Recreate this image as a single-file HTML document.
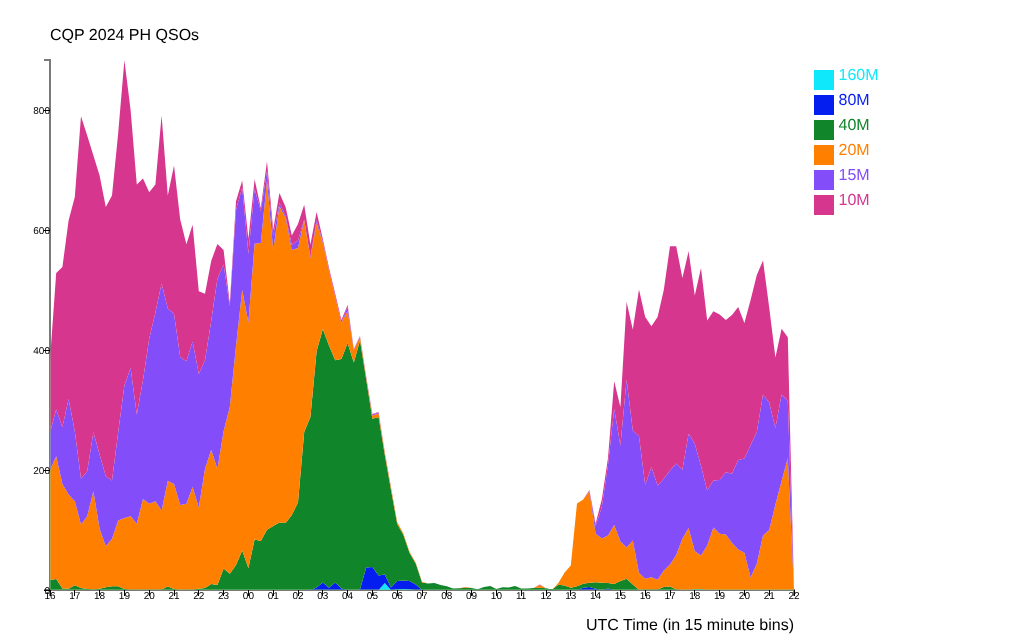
<!DOCTYPE html>
<html><head><meta charset="utf-8"><title>CQP 2024 PH QSOs</title>
<style>
html,body{margin:0;padding:0;background:#fff;}
body{width:1024px;height:640px;overflow:hidden;}
svg{display:block;font-family:"Liberation Sans",sans-serif;text-rendering:geometricPrecision;}
.ax text{font-size:10px;fill:#000;}
</style></head><body>
<svg width="1024" height="640" viewBox="0 0 1024 640" style="will-change:transform">
<rect width="1024" height="640" fill="#fff"/>
<text x="50" y="40" font-size="16" fill="#000">CQP 2024 PH QSOs</text>
<g class="ax" shape-rendering="crispEdges">
<path d="M44,60H50V590H44" fill="none" stroke="#000" stroke-opacity="0.52" stroke-width="2"/>
<path d="M50,596V590H794V596" fill="none" stroke="#000" stroke-opacity="0.52" stroke-width="2"/>
<line x1="44" x2="50" y1="590.0" y2="590.0" stroke="#000" stroke-width="1"/><text x="50" y="593.9" text-anchor="end">0</text>
<line x1="44" x2="50" y1="470.0" y2="470.0" stroke="#000" stroke-width="1"/><text x="50" y="473.9" text-anchor="end">200</text>
<line x1="44" x2="50" y1="350.0" y2="350.0" stroke="#000" stroke-width="1"/><text x="50" y="353.9" text-anchor="end">400</text>
<line x1="44" x2="50" y1="230.0" y2="230.0" stroke="#000" stroke-width="1"/><text x="50" y="233.9" text-anchor="end">600</text>
<line x1="44" x2="50" y1="110.0" y2="110.0" stroke="#000" stroke-width="1"/><text x="50" y="113.9" text-anchor="end">800</text>
<line x1="50.0" x2="50.0" y1="590" y2="596" stroke="#000" stroke-width="1"/><text x="50.0" y="598.6" text-anchor="middle">16</text>
<line x1="74.8" x2="74.8" y1="590" y2="596" stroke="#000" stroke-width="1"/><text x="74.8" y="598.6" text-anchor="middle">17</text>
<line x1="99.6" x2="99.6" y1="590" y2="596" stroke="#000" stroke-width="1"/><text x="99.6" y="598.6" text-anchor="middle">18</text>
<line x1="124.4" x2="124.4" y1="590" y2="596" stroke="#000" stroke-width="1"/><text x="124.4" y="598.6" text-anchor="middle">19</text>
<line x1="149.2" x2="149.2" y1="590" y2="596" stroke="#000" stroke-width="1"/><text x="149.2" y="598.6" text-anchor="middle">20</text>
<line x1="174.0" x2="174.0" y1="590" y2="596" stroke="#000" stroke-width="1"/><text x="174.0" y="598.6" text-anchor="middle">21</text>
<line x1="198.8" x2="198.8" y1="590" y2="596" stroke="#000" stroke-width="1"/><text x="198.8" y="598.6" text-anchor="middle">22</text>
<line x1="223.6" x2="223.6" y1="590" y2="596" stroke="#000" stroke-width="1"/><text x="223.6" y="598.6" text-anchor="middle">23</text>
<line x1="248.4" x2="248.4" y1="590" y2="596" stroke="#000" stroke-width="1"/><text x="248.4" y="598.6" text-anchor="middle">00</text>
<line x1="273.2" x2="273.2" y1="590" y2="596" stroke="#000" stroke-width="1"/><text x="273.2" y="598.6" text-anchor="middle">01</text>
<line x1="298.0" x2="298.0" y1="590" y2="596" stroke="#000" stroke-width="1"/><text x="298.0" y="598.6" text-anchor="middle">02</text>
<line x1="322.8" x2="322.8" y1="590" y2="596" stroke="#000" stroke-width="1"/><text x="322.8" y="598.6" text-anchor="middle">03</text>
<line x1="347.6" x2="347.6" y1="590" y2="596" stroke="#000" stroke-width="1"/><text x="347.6" y="598.6" text-anchor="middle">04</text>
<line x1="372.4" x2="372.4" y1="590" y2="596" stroke="#000" stroke-width="1"/><text x="372.4" y="598.6" text-anchor="middle">05</text>
<line x1="397.2" x2="397.2" y1="590" y2="596" stroke="#000" stroke-width="1"/><text x="397.2" y="598.6" text-anchor="middle">06</text>
<line x1="422.0" x2="422.0" y1="590" y2="596" stroke="#000" stroke-width="1"/><text x="422.0" y="598.6" text-anchor="middle">07</text>
<line x1="446.8" x2="446.8" y1="590" y2="596" stroke="#000" stroke-width="1"/><text x="446.8" y="598.6" text-anchor="middle">08</text>
<line x1="471.6" x2="471.6" y1="590" y2="596" stroke="#000" stroke-width="1"/><text x="471.6" y="598.6" text-anchor="middle">09</text>
<line x1="496.4" x2="496.4" y1="590" y2="596" stroke="#000" stroke-width="1"/><text x="496.4" y="598.6" text-anchor="middle">10</text>
<line x1="521.2" x2="521.2" y1="590" y2="596" stroke="#000" stroke-width="1"/><text x="521.2" y="598.6" text-anchor="middle">11</text>
<line x1="546.0" x2="546.0" y1="590" y2="596" stroke="#000" stroke-width="1"/><text x="546.0" y="598.6" text-anchor="middle">12</text>
<line x1="570.8" x2="570.8" y1="590" y2="596" stroke="#000" stroke-width="1"/><text x="570.8" y="598.6" text-anchor="middle">13</text>
<line x1="595.6" x2="595.6" y1="590" y2="596" stroke="#000" stroke-width="1"/><text x="595.6" y="598.6" text-anchor="middle">14</text>
<line x1="620.4" x2="620.4" y1="590" y2="596" stroke="#000" stroke-width="1"/><text x="620.4" y="598.6" text-anchor="middle">15</text>
<line x1="645.2" x2="645.2" y1="590" y2="596" stroke="#000" stroke-width="1"/><text x="645.2" y="598.6" text-anchor="middle">16</text>
<line x1="670.0" x2="670.0" y1="590" y2="596" stroke="#000" stroke-width="1"/><text x="670.0" y="598.6" text-anchor="middle">17</text>
<line x1="694.8" x2="694.8" y1="590" y2="596" stroke="#000" stroke-width="1"/><text x="694.8" y="598.6" text-anchor="middle">18</text>
<line x1="719.6" x2="719.6" y1="590" y2="596" stroke="#000" stroke-width="1"/><text x="719.6" y="598.6" text-anchor="middle">19</text>
<line x1="744.4" x2="744.4" y1="590" y2="596" stroke="#000" stroke-width="1"/><text x="744.4" y="598.6" text-anchor="middle">20</text>
<line x1="769.2" x2="769.2" y1="590" y2="596" stroke="#000" stroke-width="1"/><text x="769.2" y="598.6" text-anchor="middle">21</text>
<line x1="794.0" x2="794.0" y1="590" y2="596" stroke="#000" stroke-width="1"/><text x="794.0" y="598.6" text-anchor="middle">22</text>
</g>
<clipPath id="cp"><rect x="50" y="0" width="800" height="590"/></clipPath>
<g clip-path="url(#cp)">
<clipPath id="cp2"><polygon points="50.0,360.00 56.2,273.00 62.4,267.00 68.6,220.50 74.8,197.00 81.0,116.20 87.2,135.40 93.4,155.60 99.6,175.60 105.8,207.00 112.0,195.60 118.2,133.00 124.4,60.20 130.6,110.00 136.8,184.40 143.0,178.50 149.2,192.30 155.4,184.40 161.6,115.50 167.8,195.60 174.0,165.60 180.2,219.50 186.4,244.30 192.6,224.70 198.8,291.25 205.0,293.75 211.2,261.00 217.4,244.10 223.6,250.00 229.8,303.50 236.0,201.25 242.2,180.60 248.4,238.75 254.6,179.20 260.8,208.00 267.0,161.20 273.2,229.70 279.4,192.90 285.6,207.00 291.8,235.60 298.0,224.00 304.2,204.70 310.4,244.40 316.6,212.00 322.8,239.00 329.0,268.00 335.2,293.75 341.4,320.00 347.6,305.00 353.8,349.00 360.0,336.00 366.2,376.20 372.4,414.00 378.6,412.00 384.8,452.00 391.0,487.00 397.2,522.00 403.4,533.50 409.6,552.00 415.8,562.75 422.0,581.75 428.2,583.50 434.4,583.00 440.6,585.00 446.8,586.25 453.0,588.50 459.2,588.25 465.4,587.10 471.6,588.00 477.8,589.25 484.0,587.00 490.2,586.00 496.4,589.10 502.6,587.25 508.8,587.50 515.0,586.00 521.2,588.50 527.4,588.50 533.6,588.10 539.8,584.50 546.0,588.25 552.2,589.40 558.4,583.00 564.6,572.50 570.8,565.60 577.0,503.50 583.2,499.40 589.4,490.00 595.6,523.75 601.8,499.40 608.0,458.00 614.2,381.25 620.4,407.00 626.6,302.00 632.8,329.40 639.0,289.40 645.2,317.00 651.4,326.25 657.6,317.00 663.8,290.00 670.0,246.25 676.2,246.25 682.4,278.00 688.6,251.25 694.8,295.60 701.0,268.00 707.2,320.60 713.4,311.25 719.6,314.40 725.8,320.00 732.0,315.00 738.2,306.90 744.4,323.00 750.6,300.00 756.8,275.00 763.0,260.60 769.2,307.50 775.4,357.50 781.6,328.75 787.8,337.25 794.0,590.00 794.0,590.00 787.8,590.00 781.6,590.00 775.4,590.00 769.2,590.00 763.0,590.00 756.8,590.00 750.6,590.00 744.4,590.00 738.2,590.00 732.0,590.00 725.8,590.00 719.6,590.00 713.4,590.00 707.2,590.00 701.0,590.00 694.8,590.00 688.6,590.00 682.4,590.00 676.2,590.00 670.0,590.00 663.8,590.00 657.6,590.00 651.4,590.00 645.2,590.00 639.0,590.00 632.8,590.00 626.6,590.00 620.4,590.00 614.2,590.00 608.0,590.00 601.8,590.00 595.6,590.00 589.4,590.00 583.2,590.00 577.0,590.00 570.8,590.00 564.6,590.00 558.4,590.00 552.2,590.00 546.0,590.00 539.8,590.00 533.6,590.00 527.4,590.00 521.2,590.00 515.0,590.00 508.8,590.00 502.6,590.00 496.4,590.00 490.2,590.00 484.0,590.00 477.8,590.00 471.6,590.00 465.4,590.00 459.2,590.00 453.0,590.00 446.8,590.00 440.6,590.00 434.4,590.00 428.2,590.00 422.0,590.00 415.8,590.00 409.6,590.00 403.4,590.00 397.2,590.00 391.0,590.00 384.8,590.00 378.6,590.00 372.4,590.00 366.2,590.00 360.0,590.00 353.8,590.00 347.6,590.00 341.4,590.00 335.2,590.00 329.0,590.00 322.8,590.00 316.6,590.00 310.4,590.00 304.2,590.00 298.0,590.00 291.8,590.00 285.6,590.00 279.4,590.00 273.2,590.00 267.0,590.00 260.8,590.00 254.6,590.00 248.4,590.00 242.2,590.00 236.0,590.00 229.8,590.00 223.6,590.00 217.4,590.00 211.2,590.00 205.0,590.00 198.8,590.00 192.6,590.00 186.4,590.00 180.2,590.00 174.0,590.00 167.8,590.00 161.6,590.00 155.4,590.00 149.2,590.00 143.0,590.00 136.8,590.00 130.6,590.00 124.4,590.00 118.2,590.00 112.0,590.00 105.8,590.00 99.6,590.00 93.4,590.00 87.2,590.00 81.0,590.00 74.8,590.00 68.6,590.00 62.4,590.00 56.2,590.00 50.0,590.00"/></clipPath>
<polygon fill="#0fe8fa" points="50.0,590.00 56.2,590.00 62.4,590.00 68.6,590.00 74.8,590.00 81.0,590.00 87.2,590.00 93.4,590.00 99.6,590.00 105.8,590.00 112.0,590.00 118.2,590.00 124.4,590.00 130.6,590.00 136.8,590.00 143.0,590.00 149.2,590.00 155.4,590.00 161.6,590.00 167.8,590.00 174.0,590.00 180.2,590.00 186.4,590.00 192.6,590.00 198.8,590.00 205.0,590.00 211.2,590.00 217.4,590.00 223.6,590.00 229.8,590.00 236.0,590.00 242.2,590.00 248.4,590.00 254.6,590.00 260.8,590.00 267.0,590.00 273.2,590.00 279.4,590.00 285.6,590.00 291.8,590.00 298.0,590.00 304.2,590.00 310.4,590.00 316.6,590.00 322.8,590.00 329.0,590.00 335.2,590.00 341.4,590.00 347.6,590.00 353.8,590.00 360.0,590.00 366.2,590.00 372.4,590.00 378.6,590.00 384.8,583.00 391.0,590.00 397.2,589.20 403.4,589.00 409.6,589.20 415.8,590.00 422.0,590.00 428.2,590.00 434.4,590.00 440.6,590.00 446.8,590.00 453.0,590.00 459.2,590.00 465.4,590.00 471.6,590.00 477.8,590.00 484.0,590.00 490.2,590.00 496.4,590.00 502.6,590.00 508.8,590.00 515.0,590.00 521.2,590.00 527.4,590.00 533.6,590.00 539.8,590.00 546.0,590.00 552.2,590.00 558.4,590.00 564.6,590.00 570.8,590.00 577.0,590.00 583.2,590.00 589.4,590.00 595.6,590.00 601.8,590.00 608.0,590.00 614.2,590.00 620.4,590.00 626.6,590.00 632.8,590.00 639.0,590.00 645.2,590.00 651.4,590.00 657.6,590.00 663.8,590.00 670.0,590.00 676.2,590.00 682.4,590.00 688.6,590.00 694.8,589.30 701.0,589.30 707.2,590.00 713.4,590.00 719.6,590.00 725.8,590.00 732.0,590.00 738.2,590.00 744.4,590.00 750.6,590.00 756.8,590.00 763.0,590.00 769.2,590.00 775.4,590.00 781.6,590.00 787.8,590.00 794.0,590.00 794.0,590.00 787.8,590.00 781.6,590.00 775.4,590.00 769.2,590.00 763.0,590.00 756.8,590.00 750.6,590.00 744.4,590.00 738.2,590.00 732.0,590.00 725.8,590.00 719.6,590.00 713.4,590.00 707.2,590.00 701.0,590.00 694.8,590.00 688.6,590.00 682.4,590.00 676.2,590.00 670.0,590.00 663.8,590.00 657.6,590.00 651.4,590.00 645.2,590.00 639.0,590.00 632.8,590.00 626.6,590.00 620.4,590.00 614.2,590.00 608.0,590.00 601.8,590.00 595.6,590.00 589.4,590.00 583.2,590.00 577.0,590.00 570.8,590.00 564.6,590.00 558.4,590.00 552.2,590.00 546.0,590.00 539.8,590.00 533.6,590.00 527.4,590.00 521.2,590.00 515.0,590.00 508.8,590.00 502.6,590.00 496.4,590.00 490.2,590.00 484.0,590.00 477.8,590.00 471.6,590.00 465.4,590.00 459.2,590.00 453.0,590.00 446.8,590.00 440.6,590.00 434.4,590.00 428.2,590.00 422.0,590.00 415.8,590.00 409.6,590.00 403.4,590.00 397.2,590.00 391.0,590.00 384.8,590.00 378.6,590.00 372.4,590.00 366.2,590.00 360.0,590.00 353.8,590.00 347.6,590.00 341.4,590.00 335.2,590.00 329.0,590.00 322.8,590.00 316.6,590.00 310.4,590.00 304.2,590.00 298.0,590.00 291.8,590.00 285.6,590.00 279.4,590.00 273.2,590.00 267.0,590.00 260.8,590.00 254.6,590.00 248.4,590.00 242.2,590.00 236.0,590.00 229.8,590.00 223.6,590.00 217.4,590.00 211.2,590.00 205.0,590.00 198.8,590.00 192.6,590.00 186.4,590.00 180.2,590.00 174.0,590.00 167.8,590.00 161.6,590.00 155.4,590.00 149.2,590.00 143.0,590.00 136.8,590.00 130.6,590.00 124.4,590.00 118.2,590.00 112.0,590.00 105.8,590.00 99.6,590.00 93.4,590.00 87.2,590.00 81.0,590.00 74.8,590.00 68.6,590.00 62.4,590.00 56.2,590.00 50.0,590.00"/>
<polygon fill="#051ef0" points="50.0,590.00 56.2,590.00 62.4,590.00 68.6,590.00 74.8,590.00 81.0,590.00 87.2,590.00 93.4,590.00 99.6,590.00 105.8,590.00 112.0,590.00 118.2,590.00 124.4,590.00 130.6,590.00 136.8,590.00 143.0,590.00 149.2,590.00 155.4,590.00 161.6,590.00 167.8,590.00 174.0,590.00 180.2,590.00 186.4,590.00 192.6,590.00 198.8,590.00 205.0,590.00 211.2,590.00 217.4,590.00 223.6,590.00 229.8,590.00 236.0,590.00 242.2,590.00 248.4,590.00 254.6,590.00 260.8,590.00 267.0,590.00 273.2,590.00 279.4,590.00 285.6,590.00 291.8,590.00 298.0,590.00 304.2,590.00 310.4,590.00 316.6,587.50 322.8,582.50 329.0,587.75 335.2,582.50 341.4,588.50 347.6,590.00 353.8,590.00 360.0,589.40 366.2,567.50 372.4,567.00 378.6,575.60 384.8,574.60 391.0,587.50 397.2,581.00 403.4,580.60 409.6,581.00 415.8,584.40 422.0,590.00 428.2,590.00 434.4,590.00 440.6,590.00 446.8,590.00 453.0,590.00 459.2,590.00 465.4,590.00 471.6,590.00 477.8,590.00 484.0,590.00 490.2,590.00 496.4,590.00 502.6,590.00 508.8,590.00 515.0,590.00 521.2,590.00 527.4,590.00 533.6,590.00 539.8,590.00 546.0,590.00 552.2,590.00 558.4,590.00 564.6,590.00 570.8,590.00 577.0,590.00 583.2,587.75 589.4,586.90 595.6,588.75 601.8,590.00 608.0,588.50 614.2,590.00 620.4,590.00 626.6,590.00 632.8,590.00 639.0,590.00 645.2,590.00 651.4,590.00 657.6,590.00 663.8,590.00 670.0,590.00 676.2,590.00 682.4,590.00 688.6,590.00 694.8,589.30 701.0,589.30 707.2,590.00 713.4,590.00 719.6,590.00 725.8,590.00 732.0,590.00 738.2,590.00 744.4,590.00 750.6,590.00 756.8,590.00 763.0,590.00 769.2,590.00 775.4,590.00 781.6,590.00 787.8,590.00 794.0,590.00 794.0,590.00 787.8,590.00 781.6,590.00 775.4,590.00 769.2,590.00 763.0,590.00 756.8,590.00 750.6,590.00 744.4,590.00 738.2,590.00 732.0,590.00 725.8,590.00 719.6,590.00 713.4,590.00 707.2,590.00 701.0,589.30 694.8,589.30 688.6,590.00 682.4,590.00 676.2,590.00 670.0,590.00 663.8,590.00 657.6,590.00 651.4,590.00 645.2,590.00 639.0,590.00 632.8,590.00 626.6,590.00 620.4,590.00 614.2,590.00 608.0,590.00 601.8,590.00 595.6,590.00 589.4,590.00 583.2,590.00 577.0,590.00 570.8,590.00 564.6,590.00 558.4,590.00 552.2,590.00 546.0,590.00 539.8,590.00 533.6,590.00 527.4,590.00 521.2,590.00 515.0,590.00 508.8,590.00 502.6,590.00 496.4,590.00 490.2,590.00 484.0,590.00 477.8,590.00 471.6,590.00 465.4,590.00 459.2,590.00 453.0,590.00 446.8,590.00 440.6,590.00 434.4,590.00 428.2,590.00 422.0,590.00 415.8,590.00 409.6,589.20 403.4,589.00 397.2,589.20 391.0,590.00 384.8,583.00 378.6,590.00 372.4,590.00 366.2,590.00 360.0,590.00 353.8,590.00 347.6,590.00 341.4,590.00 335.2,590.00 329.0,590.00 322.8,590.00 316.6,590.00 310.4,590.00 304.2,590.00 298.0,590.00 291.8,590.00 285.6,590.00 279.4,590.00 273.2,590.00 267.0,590.00 260.8,590.00 254.6,590.00 248.4,590.00 242.2,590.00 236.0,590.00 229.8,590.00 223.6,590.00 217.4,590.00 211.2,590.00 205.0,590.00 198.8,590.00 192.6,590.00 186.4,590.00 180.2,590.00 174.0,590.00 167.8,590.00 161.6,590.00 155.4,590.00 149.2,590.00 143.0,590.00 136.8,590.00 130.6,590.00 124.4,590.00 118.2,590.00 112.0,590.00 105.8,590.00 99.6,590.00 93.4,590.00 87.2,590.00 81.0,590.00 74.8,590.00 68.6,590.00 62.4,590.00 56.2,590.00 50.0,590.00"/>
<polygon fill="#118529" points="50.0,580.00 56.2,579.00 62.4,588.50 68.6,588.75 74.8,585.25 81.0,588.00 87.2,589.00 93.4,589.50 99.6,588.75 105.8,587.25 112.0,586.25 118.2,586.25 124.4,589.00 130.6,589.75 136.8,589.75 143.0,589.75 149.2,589.75 155.4,589.75 161.6,589.50 167.8,586.60 174.0,589.00 180.2,590.00 186.4,589.75 192.6,589.75 198.8,588.75 205.0,588.00 211.2,584.00 217.4,585.00 223.6,568.50 229.8,573.75 236.0,565.00 242.2,550.60 248.4,568.00 254.6,539.40 260.8,541.00 267.0,529.70 273.2,526.00 279.4,522.50 285.6,523.00 291.8,515.00 298.0,502.50 304.2,432.00 310.4,417.00 316.6,351.25 322.8,329.00 329.0,345.50 335.2,360.25 341.4,359.00 347.6,343.00 353.8,362.50 360.0,340.60 366.2,379.50 372.4,418.75 378.6,416.90 384.8,455.00 391.0,490.00 397.2,524.00 403.4,535.00 409.6,553.00 415.8,563.75 422.0,582.50 428.2,583.50 434.4,583.00 440.6,585.00 446.8,586.25 453.0,588.50 459.2,588.25 465.4,587.75 471.6,588.00 477.8,589.25 484.0,587.00 490.2,586.00 496.4,589.10 502.6,587.25 508.8,587.50 515.0,586.00 521.2,588.50 527.4,588.50 533.6,588.10 539.8,587.75 546.0,588.25 552.2,589.40 558.4,584.75 564.6,585.60 570.8,587.75 577.0,586.25 583.2,583.75 589.4,582.75 595.6,582.25 601.8,582.75 608.0,583.00 614.2,584.00 620.4,581.00 626.6,578.75 632.8,584.40 639.0,590.00 645.2,589.50 651.4,589.50 657.6,589.50 663.8,586.90 670.0,586.60 676.2,589.50 682.4,590.00 688.6,590.00 694.8,589.30 701.0,589.30 707.2,590.00 713.4,590.00 719.6,590.00 725.8,590.00 732.0,590.00 738.2,590.00 744.4,590.00 750.6,590.00 756.8,590.00 763.0,590.00 769.2,590.00 775.4,590.00 781.6,590.00 787.8,590.00 794.0,590.00 794.0,590.00 787.8,590.00 781.6,590.00 775.4,590.00 769.2,590.00 763.0,590.00 756.8,590.00 750.6,590.00 744.4,590.00 738.2,590.00 732.0,590.00 725.8,590.00 719.6,590.00 713.4,590.00 707.2,590.00 701.0,589.30 694.8,589.30 688.6,590.00 682.4,590.00 676.2,590.00 670.0,590.00 663.8,590.00 657.6,590.00 651.4,590.00 645.2,590.00 639.0,590.00 632.8,590.00 626.6,590.00 620.4,590.00 614.2,590.00 608.0,588.50 601.8,590.00 595.6,588.75 589.4,586.90 583.2,587.75 577.0,590.00 570.8,590.00 564.6,590.00 558.4,590.00 552.2,590.00 546.0,590.00 539.8,590.00 533.6,590.00 527.4,590.00 521.2,590.00 515.0,590.00 508.8,590.00 502.6,590.00 496.4,590.00 490.2,590.00 484.0,590.00 477.8,590.00 471.6,590.00 465.4,590.00 459.2,590.00 453.0,590.00 446.8,590.00 440.6,590.00 434.4,590.00 428.2,590.00 422.0,590.00 415.8,584.40 409.6,581.00 403.4,580.60 397.2,581.00 391.0,587.50 384.8,574.60 378.6,575.60 372.4,567.00 366.2,567.50 360.0,589.40 353.8,590.00 347.6,590.00 341.4,588.50 335.2,582.50 329.0,587.75 322.8,582.50 316.6,587.50 310.4,590.00 304.2,590.00 298.0,590.00 291.8,590.00 285.6,590.00 279.4,590.00 273.2,590.00 267.0,590.00 260.8,590.00 254.6,590.00 248.4,590.00 242.2,590.00 236.0,590.00 229.8,590.00 223.6,590.00 217.4,590.00 211.2,590.00 205.0,590.00 198.8,590.00 192.6,590.00 186.4,590.00 180.2,590.00 174.0,590.00 167.8,590.00 161.6,590.00 155.4,590.00 149.2,590.00 143.0,590.00 136.8,590.00 130.6,590.00 124.4,590.00 118.2,590.00 112.0,590.00 105.8,590.00 99.6,590.00 93.4,590.00 87.2,590.00 81.0,590.00 74.8,590.00 68.6,590.00 62.4,590.00 56.2,590.00 50.0,590.00"/>
<polygon fill="#ff8000" points="50.0,470.00 56.2,456.25 62.4,484.00 68.6,494.40 74.8,501.25 81.0,524.40 87.2,516.25 93.4,491.25 99.6,528.75 105.8,546.25 112.0,538.75 118.2,520.60 124.4,518.10 130.6,516.25 136.8,523.75 143.0,499.00 149.2,503.75 155.4,501.25 161.6,510.60 167.8,481.00 174.0,484.00 180.2,505.00 186.4,503.75 192.6,486.90 198.8,507.50 205.0,468.75 211.2,449.70 217.4,469.00 223.6,431.25 229.8,407.00 236.0,346.00 242.2,290.00 248.4,322.50 254.6,243.75 260.8,243.00 267.0,180.30 273.2,250.00 279.4,206.25 285.6,218.00 291.8,250.00 298.0,248.00 304.2,220.00 310.4,258.00 316.6,223.00 322.8,243.00 329.0,270.80 335.2,296.80 341.4,322.80 347.6,311.00 353.8,350.00 360.0,337.00 366.2,377.40 372.4,415.60 378.6,413.50 384.8,452.75 391.0,487.50 397.2,522.00 403.4,533.50 409.6,552.00 415.8,562.75 422.0,581.75 428.2,583.50 434.4,583.00 440.6,585.00 446.8,586.25 453.0,588.50 459.2,588.25 465.4,587.10 471.6,588.00 477.8,589.25 484.0,587.00 490.2,586.00 496.4,589.10 502.6,587.25 508.8,587.50 515.0,586.00 521.2,588.50 527.4,588.50 533.6,588.10 539.8,585.00 546.0,588.25 552.2,589.40 558.4,583.00 564.6,572.50 570.8,565.60 577.0,503.50 583.2,499.40 589.4,491.25 595.6,533.75 601.8,538.50 608.0,535.60 614.2,525.00 620.4,541.50 626.6,547.50 632.8,540.60 639.0,573.00 645.2,578.75 651.4,577.25 657.6,579.75 663.8,570.60 670.0,564.40 676.2,555.00 682.4,538.75 688.6,528.00 694.8,551.25 701.0,555.60 707.2,545.60 713.4,527.50 719.6,533.75 725.8,534.40 732.0,543.00 738.2,549.40 744.4,552.75 750.6,577.50 756.8,563.75 763.0,535.60 769.2,530.00 775.4,504.60 781.6,480.90 787.8,458.00 794.0,590.00 794.0,590.00 787.8,590.00 781.6,590.00 775.4,590.00 769.2,590.00 763.0,590.00 756.8,590.00 750.6,590.00 744.4,590.00 738.2,590.00 732.0,590.00 725.8,590.00 719.6,590.00 713.4,590.00 707.2,590.00 701.0,589.30 694.8,589.30 688.6,590.00 682.4,590.00 676.2,589.50 670.0,586.60 663.8,586.90 657.6,589.50 651.4,589.50 645.2,589.50 639.0,590.00 632.8,584.40 626.6,578.75 620.4,581.00 614.2,584.00 608.0,583.00 601.8,582.75 595.6,582.25 589.4,582.75 583.2,583.75 577.0,586.25 570.8,587.75 564.6,585.60 558.4,584.75 552.2,589.40 546.0,588.25 539.8,587.75 533.6,588.10 527.4,588.50 521.2,588.50 515.0,586.00 508.8,587.50 502.6,587.25 496.4,589.10 490.2,586.00 484.0,587.00 477.8,589.25 471.6,588.00 465.4,587.75 459.2,588.25 453.0,588.50 446.8,586.25 440.6,585.00 434.4,583.00 428.2,583.50 422.0,582.50 415.8,563.75 409.6,553.00 403.4,535.00 397.2,524.00 391.0,490.00 384.8,455.00 378.6,416.90 372.4,418.75 366.2,379.50 360.0,340.60 353.8,362.50 347.6,343.00 341.4,359.00 335.2,360.25 329.0,345.50 322.8,329.00 316.6,351.25 310.4,417.00 304.2,432.00 298.0,502.50 291.8,515.00 285.6,523.00 279.4,522.50 273.2,526.00 267.0,529.70 260.8,541.00 254.6,539.40 248.4,568.00 242.2,550.60 236.0,565.00 229.8,573.75 223.6,568.50 217.4,585.00 211.2,584.00 205.0,588.00 198.8,588.75 192.6,589.75 186.4,589.75 180.2,590.00 174.0,589.00 167.8,586.60 161.6,589.50 155.4,589.75 149.2,589.75 143.0,589.75 136.8,589.75 130.6,589.75 124.4,589.00 118.2,586.25 112.0,586.25 105.8,587.25 99.6,588.75 93.4,589.50 87.2,589.00 81.0,588.00 74.8,585.25 68.6,588.75 62.4,588.50 56.2,579.00 50.0,580.00"/>
<polygon fill="#844dfa" points="50.0,432.50 56.2,409.40 62.4,427.00 68.6,399.00 74.8,431.25 81.0,478.75 87.2,471.25 93.4,432.25 99.6,454.50 105.8,476.25 112.0,480.50 118.2,432.00 124.4,385.50 130.6,368.10 136.8,414.40 143.0,380.00 149.2,338.75 155.4,312.50 161.6,283.40 167.8,308.60 174.0,313.75 180.2,357.00 186.4,361.25 192.6,341.50 198.8,374.00 205.0,360.30 211.2,321.00 217.4,278.75 223.6,264.40 229.8,306.00 236.0,210.00 242.2,187.50 248.4,253.75 254.6,188.75 260.8,211.00 267.0,170.80 273.2,236.00 279.4,203.00 285.6,216.10 291.8,245.00 298.0,240.60 304.2,219.40 310.4,257.00 316.6,220.30 322.8,241.50 329.0,270.50 335.2,296.50 341.4,322.50 347.6,307.00 353.8,349.50 360.0,336.50 366.2,377.00 372.4,414.50 378.6,412.50 384.8,452.75 391.0,487.50 397.2,522.00 403.4,533.50 409.6,552.00 415.8,562.75 422.0,581.75 428.2,583.50 434.4,583.00 440.6,585.00 446.8,586.25 453.0,588.50 459.2,588.25 465.4,587.10 471.6,588.00 477.8,589.25 484.0,587.00 490.2,586.00 496.4,589.10 502.6,587.25 508.8,587.50 515.0,586.00 521.2,588.50 527.4,588.50 533.6,588.10 539.8,585.00 546.0,588.25 552.2,589.40 558.4,583.00 564.6,572.50 570.8,565.60 577.0,503.50 583.2,499.40 589.4,490.50 595.6,526.00 601.8,507.00 608.0,465.00 614.2,408.75 620.4,445.60 626.6,379.75 632.8,430.60 639.0,436.25 645.2,485.00 651.4,467.00 657.6,485.60 663.8,478.75 670.0,470.60 676.2,463.50 682.4,469.75 688.6,433.75 694.8,443.75 701.0,466.00 707.2,490.60 713.4,480.60 719.6,480.00 725.8,472.25 732.0,473.75 738.2,460.00 744.4,458.50 750.6,445.00 756.8,432.00 763.0,394.40 769.2,402.50 775.4,428.00 781.6,394.40 787.8,401.00 794.0,590.00 794.0,590.00 787.8,458.00 781.6,480.90 775.4,504.60 769.2,530.00 763.0,535.60 756.8,563.75 750.6,577.50 744.4,552.75 738.2,549.40 732.0,543.00 725.8,534.40 719.6,533.75 713.4,527.50 707.2,545.60 701.0,555.60 694.8,551.25 688.6,528.00 682.4,538.75 676.2,555.00 670.0,564.40 663.8,570.60 657.6,579.75 651.4,577.25 645.2,578.75 639.0,573.00 632.8,540.60 626.6,547.50 620.4,541.50 614.2,525.00 608.0,535.60 601.8,538.50 595.6,533.75 589.4,491.25 583.2,499.40 577.0,503.50 570.8,565.60 564.6,572.50 558.4,583.00 552.2,589.40 546.0,588.25 539.8,585.00 533.6,588.10 527.4,588.50 521.2,588.50 515.0,586.00 508.8,587.50 502.6,587.25 496.4,589.10 490.2,586.00 484.0,587.00 477.8,589.25 471.6,588.00 465.4,587.10 459.2,588.25 453.0,588.50 446.8,586.25 440.6,585.00 434.4,583.00 428.2,583.50 422.0,581.75 415.8,562.75 409.6,552.00 403.4,533.50 397.2,522.00 391.0,487.50 384.8,452.75 378.6,413.50 372.4,415.60 366.2,377.40 360.0,337.00 353.8,350.00 347.6,311.00 341.4,322.80 335.2,296.80 329.0,270.80 322.8,243.00 316.6,223.00 310.4,258.00 304.2,220.00 298.0,248.00 291.8,250.00 285.6,218.00 279.4,206.25 273.2,250.00 267.0,180.30 260.8,243.00 254.6,243.75 248.4,322.50 242.2,290.00 236.0,346.00 229.8,407.00 223.6,431.25 217.4,469.00 211.2,449.70 205.0,468.75 198.8,507.50 192.6,486.90 186.4,503.75 180.2,505.00 174.0,484.00 167.8,481.00 161.6,510.60 155.4,501.25 149.2,503.75 143.0,499.00 136.8,523.75 130.6,516.25 124.4,518.10 118.2,520.60 112.0,538.75 105.8,546.25 99.6,528.75 93.4,491.25 87.2,516.25 81.0,524.40 74.8,501.25 68.6,494.40 62.4,484.00 56.2,456.25 50.0,470.00"/>
<polygon fill="#d6368d" points="50.0,360.00 56.2,273.00 62.4,267.00 68.6,220.50 74.8,197.00 81.0,116.20 87.2,135.40 93.4,155.60 99.6,175.60 105.8,207.00 112.0,195.60 118.2,133.00 124.4,60.20 130.6,110.00 136.8,184.40 143.0,178.50 149.2,192.30 155.4,184.40 161.6,115.50 167.8,195.60 174.0,165.60 180.2,219.50 186.4,244.30 192.6,224.70 198.8,291.25 205.0,293.75 211.2,261.00 217.4,244.10 223.6,250.00 229.8,303.50 236.0,201.25 242.2,180.60 248.4,238.75 254.6,179.20 260.8,208.00 267.0,161.20 273.2,229.70 279.4,192.90 285.6,207.00 291.8,235.60 298.0,224.00 304.2,204.70 310.4,244.40 316.6,212.00 322.8,239.00 329.0,268.00 335.2,293.75 341.4,320.00 347.6,305.00 353.8,349.00 360.0,336.00 366.2,376.20 372.4,414.00 378.6,412.00 384.8,452.00 391.0,487.00 397.2,522.00 403.4,533.50 409.6,552.00 415.8,562.75 422.0,581.75 428.2,583.50 434.4,583.00 440.6,585.00 446.8,586.25 453.0,588.50 459.2,588.25 465.4,587.10 471.6,588.00 477.8,589.25 484.0,587.00 490.2,586.00 496.4,589.10 502.6,587.25 508.8,587.50 515.0,586.00 521.2,588.50 527.4,588.50 533.6,588.10 539.8,584.50 546.0,588.25 552.2,589.40 558.4,583.00 564.6,572.50 570.8,565.60 577.0,503.50 583.2,499.40 589.4,490.00 595.6,523.75 601.8,499.40 608.0,458.00 614.2,381.25 620.4,407.00 626.6,302.00 632.8,329.40 639.0,289.40 645.2,317.00 651.4,326.25 657.6,317.00 663.8,290.00 670.0,246.25 676.2,246.25 682.4,278.00 688.6,251.25 694.8,295.60 701.0,268.00 707.2,320.60 713.4,311.25 719.6,314.40 725.8,320.00 732.0,315.00 738.2,306.90 744.4,323.00 750.6,300.00 756.8,275.00 763.0,260.60 769.2,307.50 775.4,357.50 781.6,328.75 787.8,337.25 794.0,590.00 794.0,590.00 787.8,401.00 781.6,394.40 775.4,428.00 769.2,402.50 763.0,394.40 756.8,432.00 750.6,445.00 744.4,458.50 738.2,460.00 732.0,473.75 725.8,472.25 719.6,480.00 713.4,480.60 707.2,490.60 701.0,466.00 694.8,443.75 688.6,433.75 682.4,469.75 676.2,463.50 670.0,470.60 663.8,478.75 657.6,485.60 651.4,467.00 645.2,485.00 639.0,436.25 632.8,430.60 626.6,379.75 620.4,445.60 614.2,408.75 608.0,465.00 601.8,507.00 595.6,526.00 589.4,490.50 583.2,499.40 577.0,503.50 570.8,565.60 564.6,572.50 558.4,583.00 552.2,589.40 546.0,588.25 539.8,585.00 533.6,588.10 527.4,588.50 521.2,588.50 515.0,586.00 508.8,587.50 502.6,587.25 496.4,589.10 490.2,586.00 484.0,587.00 477.8,589.25 471.6,588.00 465.4,587.10 459.2,588.25 453.0,588.50 446.8,586.25 440.6,585.00 434.4,583.00 428.2,583.50 422.0,581.75 415.8,562.75 409.6,552.00 403.4,533.50 397.2,522.00 391.0,487.50 384.8,452.75 378.6,412.50 372.4,414.50 366.2,377.00 360.0,336.50 353.8,349.50 347.6,307.00 341.4,322.50 335.2,296.50 329.0,270.50 322.8,241.50 316.6,220.30 310.4,257.00 304.2,219.40 298.0,240.60 291.8,245.00 285.6,216.10 279.4,203.00 273.2,236.00 267.0,170.80 260.8,211.00 254.6,188.75 248.4,253.75 242.2,187.50 236.0,210.00 229.8,306.00 223.6,264.40 217.4,278.75 211.2,321.00 205.0,360.30 198.8,374.00 192.6,341.50 186.4,361.25 180.2,357.00 174.0,313.75 167.8,308.60 161.6,283.40 155.4,312.50 149.2,338.75 143.0,380.00 136.8,414.40 130.6,368.10 124.4,385.50 118.2,432.00 112.0,480.50 105.8,476.25 99.6,454.50 93.4,432.25 87.2,471.25 81.0,478.75 74.8,431.25 68.6,399.00 62.4,427.00 56.2,409.40 50.0,432.50"/>
</g>
<path d="M50.5,60V589.5H794" fill="none" stroke="#8bc687" stroke-opacity="0.47" stroke-width="1" shape-rendering="crispEdges" clip-path="url(#cp2)"/>
<g>
<rect x="814" y="70" width="20" height="20" fill="#0fe8fa"/><text x="838.5" y="80" fill="#0fe8fa" font-size="16">160M</text>
<rect x="814" y="95" width="20" height="20" fill="#051ef0"/><text x="838.5" y="105" fill="#051ef0" font-size="16">80M</text>
<rect x="814" y="120" width="20" height="20" fill="#118529"/><text x="838.5" y="130" fill="#118529" font-size="16">40M</text>
<rect x="814" y="145" width="20" height="20" fill="#ff8000"/><text x="838.5" y="155" fill="#ff8000" font-size="16">20M</text>
<rect x="814" y="170" width="20" height="20" fill="#844dfa"/><text x="838.5" y="180" fill="#844dfa" font-size="16">15M</text>
<rect x="814" y="195" width="20" height="20" fill="#d6368d"/><text x="838.5" y="205" fill="#d6368d" font-size="16">10M</text>
</g>
<text x="794" y="630" font-size="16" text-anchor="end" fill="#000">UTC Time (in 15 minute bins)</text>
</svg>
</body></html>
